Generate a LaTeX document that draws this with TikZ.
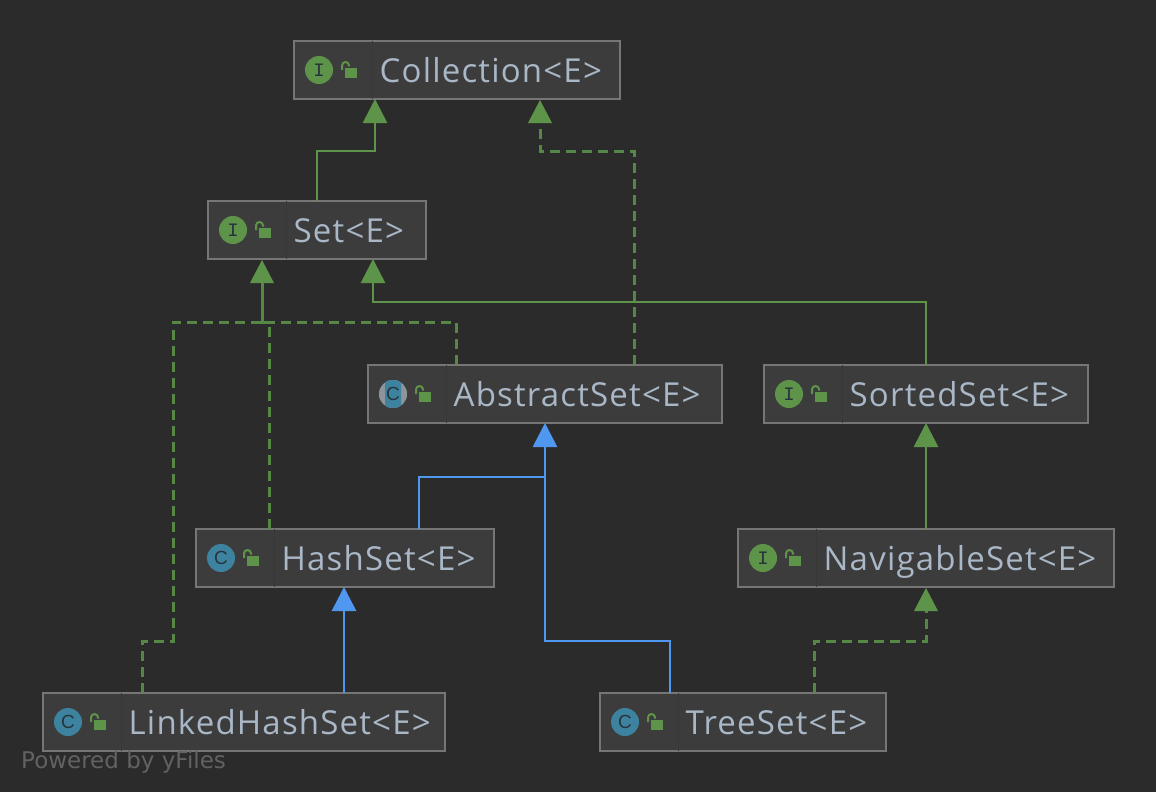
\documentclass[tikz,border=0pt]{standalone}
\usepackage{fontspec}
\setmainfont{Open Sans}
\newfontfamily\iconfont{Liberation Mono}
\newfontfamily\iconsans{Liberation Sans}
\newfontfamily\yfont{DejaVu Sans}
\newfontfamily\labelfont[LetterSpace=3.6]{Open Sans}
\usetikzlibrary{arrows.meta,calc}
\definecolor{bgc}{HTML}{2B2B2B}
\definecolor{boxc}{HTML}{3C3C3C}
\definecolor{edgec}{HTML}{767676}
\definecolor{sepc}{HTML}{383838}
\definecolor{txtc}{HTML}{A9B7C6}
\definecolor{greenc}{HTML}{5E9449}
\definecolor{dashc}{HTML}{568845}
\definecolor{bluec}{HTML}{4F97EF}
\definecolor{tealc}{HTML}{3D83A0}
\definecolor{greyc}{HTML}{8E9499}
\definecolor{glyphc}{HTML}{26343C}
\definecolor{yc}{HTML}{626262}
\tikzset{
  classbox/.style={draw=edgec,fill=boxc,line width=2pt,rectangle,inner sep=0pt,outer sep=0pt,anchor=north west},
  classtext/.style={text=txtc,anchor=base west,inner sep=0pt,font=\labelfont\fontsize{33}{33}\selectfont},
  iface/.style={circle,fill=greenc,minimum size=28pt,inner sep=0pt,text=glyphc,font=\iconfont\fontsize{19}{19}\selectfont},
  klass/.style={circle,fill=tealc,minimum size=28pt,inner sep=0pt,text=glyphc,font=\iconsans\fontsize{19}{19}\selectfont},
  solidg/.style={-{Triangle[length=24pt,width=24pt]},draw=greenc,line width=2.8pt},
  dashg/.style={draw=dashc,line width=3pt,dash pattern=on 10pt off 6pt},
  tipg/.style={fill=greenc,draw=none},
  solidb/.style={-{Triangle[length=24pt,width=24pt]},draw=bluec,line width=2.8pt},
  plainb/.style={draw=bluec,line width=2.8pt},
  yfiles/.style={text=yc,anchor=base west,inner sep=0pt,font=\yfont\fontsize{23}{23}\selectfont},
}
% name, left, top, width, icon style, letter, text
\newcommand{\classnode}[7]{%
  \node[classbox,minimum width=#4pt,minimum height=58pt] (#1) at (#2,#3) {};
  \draw[sepc,line width=1pt] ($(#1.north west)+(78,0)$) -- ($(#1.south west)+(78,0)$);
  \node[#5] (#1icon) at ($(#1.west)+(25,0)$) {#6};
  \fill[greenc] ($(#1.west)+(51,-2)$) rectangle ++(12,10);
  \draw[greenc,line width=2pt] ($(#1.west)+(48,0)$) -- ++(0,-4.5) arc[start angle=180,end angle=0,radius=3.5pt] -- ++(0,1);
  \node[classtext] (#1text) at ($(#1.west)+(85.5,12)$) {#7};
}
\begin{document}
\begin{tikzpicture}[x=1pt,y=-1pt]
\path[fill=bgc,use as bounding box] (0,0) rectangle (1156,792);

% nodes
\classnode{coll}{294}{41}{326}{iface}{I}{Collection<E>}
\classnode{set}{208}{201}{218}{iface}{I}{Set<E>}
\classnode{abs}{368}{365}{354}{klass}{C}{AbstractSet<E>}
\classnode{sorted}{764}{365}{324}{iface}{I}{SortedSet<E>}
\classnode{hash}{196}{529}{298}{klass}{C}{HashSet<E>}
\classnode{nav}{738}{529}{376}{iface}{I}{NavigableSet<E>}
\classnode{linked}{43}{693}{402}{klass}{C}{LinkedHashSet<E>}
\classnode{tree}{600}{693}{286}{klass}{C}{TreeSet<E>}

% abstract icon: grey circle with a teal band
\begin{scope}
  \fill[greyc] (absicon.center) circle[radius=14pt];
  \clip ($(absicon.center)+(-8,-14)$) rectangle ($(absicon.center)+(8,14)$);
  \fill[tealc] (absicon.center) circle[radius=14pt];
\end{scope}
\node[text=glyphc,inner sep=0pt,font=\iconsans\fontsize{19}{19}\selectfont] (absglyph) at (absicon.center) {C};

% edges
\draw[solidg] ($(set.north west)+(109,0)$) -- ++(0,-50) -| ($(coll.south west)+(81,0)$);
\draw[dashg] ($(abs.north west)+(266,0)$) -- ++(0,-214) -| ($(coll.south west)+(246,24)$);
\fill[tipg] ($(coll.south west)+(246,1)$) -- ++(-12,23) -- ++(24,0) -- cycle;
\draw[solidg] ($(sorted.north west)+(162,0)$) -- ++(0,-63) -| ($(set.south west)+(165,0)$);
\draw[dashg] ($(abs.north west)+(88,0)$) -- ++(0,-43) -| ($(set.south west)+(54,24)$);
\draw[dashg] ($(hash.north west)+(73,0)$) -- ++(0,-207) -| ($(set.south west)+(54,24)$);
\draw[dashg] ($(linked.north west)+(99,0)$) -- ++(0,-52) -- ++(31,0) -- ++(0,-319) -| ($(set.south west)+(54,24)$);
\fill[tipg] ($(set.south west)+(54,1)$) -- ++(-12,23) -- ++(24,0) -- cycle;
\draw[plainb] ($(hash.north west)+(223,0)$) -- ++(0,-52) -| ($(abs.south west)+(177,24)$);
\draw[solidb] ($(tree.north west)+(70,0)$) -- ++(0,-52) -| ($(abs.south west)+(177,0)$);
\draw[solidb] ($(linked.north west)+(301,0)$) -- ($(hash.south west)+(148,0)$);
\draw[solidg] ($(nav.north west)+(188,0)$) -- ($(sorted.south west)+(162,0)$);
\draw[dashg] ($(tree.north west)+(214,0)$) -- ++(0,-52) -| ($(nav.south west)+(188,24)$);
\fill[tipg] ($(nav.south west)+(188,1)$) -- ++(-12,23) -- ++(24,0) -- cycle;

\node[yfiles] (powered) at (21,768) {Powered by yFiles};
\end{tikzpicture}
\end{document}
